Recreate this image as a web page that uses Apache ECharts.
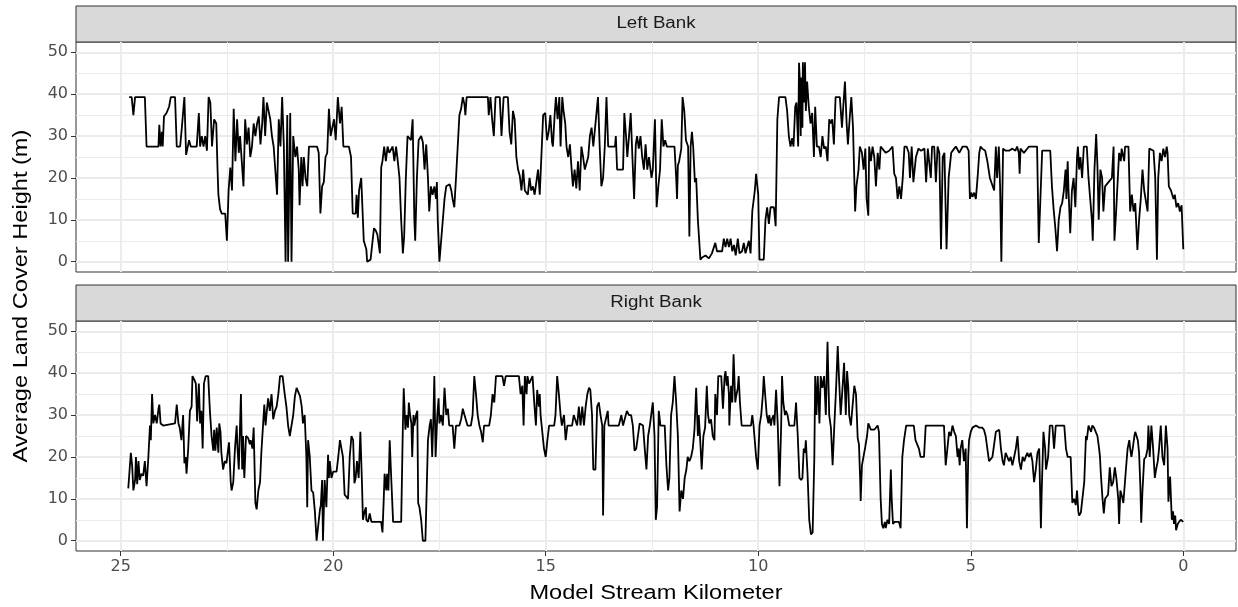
<!DOCTYPE html>
<html>
<head>
<meta charset="utf-8">
<script src="https://cdn.jsdelivr.net/npm/echarts@6/dist/echarts.min.js"></script>
<style>
  html, body { margin: 0; padding: 0; background: #fff; }
  #main { width: 1238px; height: 607px; }
</style>
</head>
<body>
<div id="main"></div>
<script>
// facet titles and axis ticks
var panelNames = ['Left Bank', 'Right Bank'];
var xTicks = [0, 5, 10, 15, 20, 25];
var xMinorTicks = [2.5, 7.5, 12.5, 17.5, 22.5];
var yTicks = [0, 10, 20, 30, 40, 50];
var yMinorTicks = [5, 15, 25, 35, 45];

// [model stream km, average land cover height (m)]
var leftBank = [
  [24.80,39.3],[24.74,39.3],[24.70,35],[24.66,39.3],[24.43,39.3],[24.39,27.5],[24.11,27.5],[24.09,32.7],[24.06,27.5],[24.03,31],
  [24.01,27.5],[23.98,34.7],[23.92,35.5],[23.86,37],[23.82,39.3],[23.72,39.3],[23.68,27.5],[23.60,27.5],[23.56,32],[23.50,39.3],
  [23.46,25.5],[23.43,25.5],[23.39,29],[23.35,27.5],[23.21,27.5],[23.16,35.5],[23.13,27.5],[23.09,30],[23.05,27.5],[23.01,30],
  [22.97,26.5],[22.93,39.3],[22.89,38],[22.85,27.5],[22.80,34],[22.75,33],[22.72,22],[22.70,16],[22.66,12.5],[22.62,11.5],
  [22.54,11.5],[22.50,5],[22.46,17],[22.42,22.5],[22.38,17],[22.34,36.5],[22.30,24],[22.26,34],[22.22,26],[22.19,30],
  [22.15,24],[22.11,18],[22.07,34],[22.03,28],[21.99,32],[21.95,25],[21.91,27.5],[21.87,33],[21.83,30],[21.79,33],
  [21.75,34.7],[21.71,28],[21.67,33],[21.64,39.3],[21.60,30],[21.56,38],[21.52,36],[21.48,34],[21.44,30],[21.40,27.5],
  [21.36,27.5],[21.32,16],[21.28,34],[21.24,27.5],[21.20,39.3],[21.16,27.5],[21.12,0],[21.08,35],[21.06,0],[21.03,0],
  [21.01,35.5],[20.98,0],[20.94,30],[20.89,25],[20.85,27.5],[20.81,22],[20.79,13.5],[20.75,25],[20.72,18],[20.69,25],
  [20.65,20],[20.61,18],[20.57,27.5],[20.38,27.5],[20.34,26],[20.30,11.5],[20.26,18],[20.22,19],[20.18,25],[20.14,26],
  [20.10,36.5],[20.06,30],[19.98,34],[19.94,29],[19.89,39.3],[19.84,33],[19.80,37],[19.76,27.5],[19.63,27.5],[19.58,25],
  [19.54,11.5],[19.47,11.5],[19.45,16],[19.42,10.5],[19.39,17],[19.34,20],[19.28,5],[19.22,3],[19.20,0],[19.12,0.5],
  [19.04,8],[19.00,7.5],[18.96,6.5],[18.90,2],
  [18.87,22.5],[18.84,24],[18.80,27.5],[18.76,24],[18.72,27.5],[18.68,26],[18.60,27.5],[18.56,24],[18.52,27.5],[18.48,24],
  [18.44,20],[18.40,10],[18.36,2],[18.33,6],[18.29,20],[18.25,30],[18.17,29],[18.13,34],[18.09,10],[18.07,5],
  [18.03,20],[17.99,29],[17.93,30],[17.89,28.5],[17.85,22],[17.81,28],[17.77,20],[17.74,12],[17.70,18],[17.66,16],
  [17.62,18],[17.58,15],[17.56,19],[17.54,10],[17.50,0],[17.46,5],[17.42,10],[17.38,15],[17.34,18],[17.26,18.5],
  [17.22,17],[17.19,15],[17.15,13],[17.11,20],[17.07,27.5],[17.03,35],[16.99,36.5],[16.95,39.3],[16.91,37.5],[16.89,35],
  [16.86,39.3],[16.36,39.3],[16.34,35],[16.30,39.3],[16.26,34],[16.22,30],[16.18,39.3],[16.08,39.3],[16.04,30],[15.99,39.3],
  [15.89,39.3],[15.85,31],[15.81,28],[15.77,36],[15.73,34],[15.69,25],[15.65,22],[15.61,20.5],[15.57,17],[15.53,22],
  [15.49,17],[15.42,16],[15.38,20],[15.34,17],[15.30,18],[15.26,16],[15.18,22],[15.14,16],[15.10,16],[15.06,35],
  [15.01,35.5],[14.97,29],[14.93,31],[14.89,35],[14.85,28.5],[14.83,27.5],[14.79,35],[14.76,39.3],[14.72,34],[14.68,39.3],
  [14.65,27.5],[14.61,39.3],[14.58,36],[14.54,33],[14.51,27.5],[14.47,25],[14.43,28],[14.39,22],[14.36,18],[14.32,22],
  [14.28,17.5],[14.24,24],[14.20,17],[14.16,27.5],[14.12,25],[14.08,22],[14.04,22],[14.00,25],[13.96,30],[13.92,32],
  [13.88,27.5],[13.84,27.5],[13.81,35],[13.77,39.3],[13.73,27.5],[13.69,18],[13.65,20],[13.61,27.5],[13.57,39.3],[13.53,27.5],
  [13.37,27.5],[13.35,30],[13.32,22],[13.18,22],[13.15,35.5],[13.11,30],[13.08,25],[13.04,30],[13.00,35.5],[12.96,25],
  [12.92,15],[12.88,28],[12.85,30],[12.81,27],[12.77,30],[12.73,25],[12.69,22],[12.65,28],[12.61,22],[12.57,25],
  [12.51,20],[12.48,22],[12.43,34],[12.39,13],[12.35,18],[12.31,22],[12.27,34],[12.23,27.5],[12.19,29],[12.15,27.5],
  [12.11,27.5],[11.97,27.5],[11.93,20],[11.91,15],[11.89,23],[11.86,24],[11.81,27],[11.78,39.3],[11.74,36],[11.70,29],
  [11.65,27.5],[11.62,6],[11.59,27.5],[11.56,31],[11.53,27.5],[11.49,19],[11.46,20],[11.42,10],[11.36,0.5],[11.32,1],
  [11.24,1.5],[11.16,0.8],[11.09,2],[11.01,4.5],[10.97,2.5],[10.85,2.5],[10.81,5.5],[10.77,3.5],[10.73,5.5],[10.69,3.5],
  [10.65,5.5],[10.61,2.5],[10.57,4],[10.53,1.5],[10.48,5.5],[10.44,2],[10.38,2.5],[10.34,4.5],[10.30,2],[10.26,2],
  [10.22,5],[10.18,2],[10.14,12],[10.08,17],[10.05,21],[10.00,16],[9.97,0.5],[9.87,0.5],[9.83,10],[9.79,13],
  [9.75,9],[9.71,13],[9.63,13],[9.59,8.5],[9.55,34],[9.51,39.3],[9.36,39.3],[9.32,36],[9.28,30],[9.24,27.5],
  [9.20,29.5],[9.17,27.5],[9.13,37],[9.10,38],[9.06,27.5],[9.04,47.5],[9.02,43],[9.00,30],[8.99,44],[8.96,32],
  [8.95,47.6],[8.92,38],[8.90,47.6],[8.88,36],[8.85,43],[8.83,40],[8.81,37],[8.77,33],[8.73,35.5],[8.69,25],
  [8.66,37],[8.62,27.5],[8.57,27.5],[8.53,25],[8.49,30],[8.45,27],[8.41,27.5],[8.37,24],[8.33,34],[8.29,33],
  [8.26,34],[8.22,28],[8.18,39.3],[8.08,39.3],[8.03,32],[8.00,37],[7.96,43],[7.92,33],[7.89,28],[7.85,34],
  [7.81,39.3],[7.77,32],[7.72,12],[7.69,18],[7.64,22],[7.61,27.5],[7.56,26],[7.52,22],[7.48,27],[7.45,15],
  [7.41,11],[7.39,27.5],[7.35,24],[7.31,27.5],[7.27,25],[7.23,18],[7.19,26],[7.15,22],[7.12,27.5],[7.00,26],
  [6.92,26.5],[6.84,27.5],[6.80,21],[6.76,20],[6.72,15],[6.68,18],[6.64,15],[6.60,20],[6.56,27.5],[6.51,27.5],
  [6.46,26],[6.43,20],[6.39,27.5],[6.35,19],[6.29,25],[6.23,27],[6.17,26.5],[6.09,27],[6.05,19],[6.01,27],
  [5.94,20],[5.91,27.5],[5.86,27.5],[5.82,19],[5.78,27.5],[5.74,26],[5.70,3],[5.66,25],[5.62,26],[5.57,3],
  [5.52,20],[5.46,26],[5.39,27],[5.35,27.5],[5.27,26],[5.19,27.5],
  [5.10,27.5],[5.05,26.5],[5.02,15],[4.99,16.5],[4.96,15.5],[4.92,16.5],[4.88,15],[4.84,20],[4.80,26],[4.77,27.5],
  [4.73,27],[4.66,26.5],[4.61,24],[4.55,20],[4.45,17],[4.41,27.5],[4.38,20],[4.34,27.5],[4.31,18],[4.28,0],
  [4.24,27],[4.18,26.5],[4.10,26.5],[4.02,27],[3.95,26.5],[3.91,27.5],[3.87,26],[3.85,21],[3.83,27],[3.75,26],
  [3.63,27.5],[3.44,27.5],[3.40,4.5],[3.36,4.5],[3.32,26.5],[3.13,26.5],[3.09,18],[3.05,12.5],[3.01,8],[2.97,2.5],
  [2.93,10],[2.89,13],[2.85,14],[2.81,17],[2.77,22],[2.75,15],[2.72,24],[2.70,17],[2.66,6.8],[2.62,17],
  [2.58,20],[2.54,13],[2.50,25],[2.48,27.5],[2.45,22],[2.42,25],[2.38,20],[2.34,27.5],[2.27,27.5],[2.23,20],
  [2.19,20],[2.15,10],[2.13,5],[2.09,22],[2.05,30.5],[2.02,23],[1.99,10],[1.95,22],[1.91,20],[1.88,12],
  [1.84,18],[1.76,19],[1.68,20],[1.64,27.5],[1.62,5],[1.58,12],[1.54,20],[1.51,26],[1.47,24],[1.45,27],
  [1.39,24],[1.37,27.5],[1.29,27.5],[1.25,12],[1.21,16],[1.17,12],[1.13,14],[1.08,2.8],[1.04,10],[1.00,15],
  [0.96,22],[0.92,17],[0.88,17],[0.84,12],[0.80,27],[0.70,26.5],[0.66,20],[0.62,0.5],[0.59,20],[0.55,26],
  [0.51,24],[0.47,27],[0.43,25],[0.39,27.5],[0.37,26],[0.34,18],[0.29,17],[0.23,15],[0.20,16],[0.16,13],
  [0.12,14],[0.08,12],[0.04,13.5],[0.00,3]
];

var rightBank = [
  [24.82,12.5],[24.76,21],[24.73,18],[24.70,12],[24.66,14.5],[24.64,20],[24.61,13.5],[24.58,19],[24.55,14.5],[24.51,16],
  [24.47,15.5],[24.43,19],[24.39,13],[24.35,19.5],[24.31,27.5],[24.29,24],[24.26,35],[24.23,28],[24.19,30],[24.15,28],
  [24.11,31.5],[24.09,32.5],[24.06,28],[24.00,27.5],[23.72,28],[23.68,32.5],[23.64,28],[23.61,27],[23.57,24],[23.53,30],
  [23.50,18.5],[23.47,20],[23.45,16],[23.41,22],[23.37,31],[23.33,32],[23.31,39.3],[23.27,38.5],[23.23,37.5],[23.20,28.5],
  [23.16,37.5],[23.13,28],[23.10,31],[23.07,22],[23.04,37.5],[23.00,39.3],[22.94,39.3],[22.90,31],[22.86,25],[22.82,21.5],
  [22.80,26.5],[22.77,21.5],[22.74,27],[22.70,21],[22.68,28],[22.65,26],[22.63,21],[22.59,17],[22.55,19],[22.51,18.5],
  [22.47,22],[22.45,23.5],[22.41,14],[22.39,12],[22.35,14],[22.31,22],[22.27,27.5],[22.25,22],[22.22,17],[22.19,17],
  [22.17,35],[22.14,17],[22.12,25],[22.09,15],[22.05,25],[22.00,24.5],[21.96,23],[21.94,24],[21.90,22],[21.87,27],
  [21.83,9],[21.80,7.5],[21.76,12],[21.72,14],[21.69,21],[21.65,27.5],[21.62,32.5],[21.59,27.5],[21.57,30],[21.53,34],
  [21.49,31],[21.45,35],[21.41,29],[21.37,31],[21.33,32],[21.29,35],[21.25,39.3],[21.19,39.3],[21.14,35],[21.10,32],
  [21.06,27.5],[21.02,25],[20.98,25],[20.94,30],[20.90,34.5],[20.86,36.5],[20.82,36.5],[20.78,34.5],[20.74,32],[20.71,28],
  [20.67,30],[20.63,20],[20.61,8],[20.59,24],[20.55,20],[20.51,12],[20.47,11.5],[20.43,7],[20.39,0],[20.35,0],
  [20.31,7.5],[20.29,8.5],[20.26,14.5],[20.24,0],[20.20,14.5],[20.16,8],[20.12,20.5],
  [20.10,15],[20.08,19],[20.04,15],[20.00,16.5],[19.92,16.5],[19.88,20],[19.84,24],[19.80,24],[19.77,20],[19.73,11],
  [19.69,10.5],[19.65,10],[19.61,20],[19.57,25],[19.53,24],[19.50,13.7],[19.47,15],[19.44,19],[19.40,15],[19.36,26],
  [19.32,13],[19.30,5],[19.26,7],[19.23,8],[19.22,5],[19.18,4.5],[19.14,6.5],[19.10,4.5],[18.87,4.5],[18.84,2],
  [18.81,10],[18.79,16],[18.75,12],[18.73,16],[18.70,12],[18.67,24],[18.63,14],[18.59,4.5],[18.40,4.5],[18.36,27.5],
  [18.34,36.4],[18.30,26.5],[18.27,30],[18.24,27],[18.22,33],[18.19,30],[18.16,28],[18.14,20],[18.11,30],[18.09,27.5],
  [18.05,30],[18.02,31],[18.00,9],[17.97,8],[17.93,5],[17.89,0],[17.83,0],[17.80,12],[17.77,24],[17.73,27.5],
  [17.70,29],[17.67,20],[17.64,30],[17.62,39.3],[17.59,20],[17.55,30],[17.52,34],[17.50,28],[17.46,30],[17.42,27.5],
  [17.38,36.5],[17.34,30],[17.30,31.5],[17.27,27.5],[17.19,27.5],[17.15,22],[17.11,27.5],[17.03,27.5],[16.99,29],[16.95,31.5],
  [16.91,30],[16.87,30],[16.84,27.5],[16.76,27.5],[16.72,30],[16.68,39.3],[16.64,35],[16.60,30],[16.56,27.5],[16.52,26],
  [16.48,23.5],[16.45,27.5],[16.33,27.5],[16.29,30],[16.25,35],[16.21,33],[16.17,39.3],[16.02,39.3],[15.98,37],[15.94,39.3],
  [15.63,39.3],[15.59,35],[15.55,37],[15.52,27.5],[15.49,39.3],[15.45,35],[15.43,39.3],[15.39,37.5],[15.31,39.3],[15.27,33],
  [15.23,27.5],[15.20,36],[15.16,32],[15.14,35],[15.12,30],[15.08,30],[15.04,22],[15.00,20],[14.96,24],[14.92,27.5],
  [14.80,27.5],[14.77,30],[14.73,39.3],[14.69,35],[14.65,30],[14.62,27.5],[14.57,30],[14.53,24],[14.49,27.5],[14.38,27.5],
  [14.34,30],[14.30,30],[14.26,27.5],[14.22,32],[14.18,27.5],[14.14,32],[14.10,27.5],[14.06,32],[14.02,35],[13.98,36.5],
  [13.95,36],[13.91,30],[13.88,17],[13.83,17],[13.79,32],[13.75,33],[13.71,30],[13.67,27.5],[13.65,6],[13.62,27.5],
  [13.58,27.5],[13.54,31],[13.52,27.5],[13.28,27.5],
  [13.22,30],[13.18,27.5],[13.14,27.5],[13.09,31],[13.04,30],[12.99,30],[12.95,27.5],[12.91,21.5],[12.87,22],[12.83,25],
  [12.79,28],[12.71,27.5],[12.67,22],[12.63,17],[12.59,25],[12.55,27.5],[12.52,27.5],[12.48,33],[12.44,25],[12.41,5],
  [12.38,8],[12.34,31],[12.30,27.5],[12.20,27.5],[12.16,18],[12.12,12],[12.09,15],[12.05,30],[12.01,33],[11.97,39.3],
  [11.93,33],[11.89,25],[11.85,7],[11.81,12],[11.77,10],[11.73,15],[11.69,17],[11.66,20],[11.62,19],[11.58,20],
  [11.54,22],[11.50,26.5],[11.46,36.5],[11.42,25],[11.40,30],[11.37,25],[11.33,17],[11.29,25],[11.25,27],[11.21,37],
  [11.18,30],[11.15,28],[11.11,29],[11.07,25],[11.03,24],[11.01,35],[10.97,30],[10.94,39.3],[10.87,39.3],[10.83,31.5],
  [10.79,39.3],[10.77,40.5],[10.74,37],[10.72,39.3],[10.69,35],[10.68,27.5],[10.64,37],[10.61,33],[10.58,44.5],[10.54,33],
  [10.52,34.5],[10.48,36.5],[10.46,39.3],[10.43,33],[10.39,27.5],[10.17,27.5],[10.14,30],[10.11,27.5],[10.05,20],[10.01,17],
  [9.97,27.5],[9.93,30],[9.89,35],[9.87,39.3],[9.83,34],[9.80,30],[9.76,28],[9.74,30],[9.70,27.5],[9.68,29],
  [9.64,30],[9.62,27.5],[9.58,36],[9.54,27.5],[9.50,13],[9.46,27.5],[9.44,39.3],[9.41,33],[9.37,30],[9.35,31],
  [9.31,30],[9.27,27.5],[9.15,27.5],[9.11,33],[9.07,25],[9.03,15],[8.99,14.5],[8.96,15],[8.93,22],[8.90,21],
  [8.88,24],[8.84,16],[8.80,5],[8.76,1.5],[8.72,2],[8.68,20],[8.66,39.3],[8.63,30],[8.60,39.3],[8.56,28],
  [8.53,39.3],[8.49,36.5],[8.45,39.3],[8.41,30],[8.37,47.5],[8.33,30],[8.29,27],[8.25,18],[8.21,27.5],[8.17,36],
  [8.13,46.5],[8.10,39],[8.06,30],[8.02,36],[7.98,42.5],[7.94,30],[7.91,40.5],[7.88,36.5],[7.86,30],[7.82,27.5],
  [7.74,37],[7.70,35],[7.66,24.5],[7.63,23],[7.60,14],[7.59,9.5],[7.56,18],[7.52,18],[7.48,22.5],[7.44,25],
  [7.41,28],[7.35,26.5],[7.27,26.5],[7.19,27.5],[7.16,26],[7.12,10],[7.09,4],[7.06,3],[7.02,4.5],[7.00,3],
  [6.96,5],[6.92,4],[6.88,17],[6.86,10],[6.83,4],[6.79,4.5],[6.69,4.5],[6.65,3],[6.61,20],
  [6.57,24],[6.52,27.5],[6.34,27.5],[6.30,24],[6.26,24],[6.22,22],[6.18,20],[6.10,20],[6.06,27.5],[5.63,27.5],
  [5.59,18],[5.55,22],[5.51,26],[5.47,25],[5.43,27.5],[5.39,26],[5.35,25],[5.31,20],[5.29,22],[5.26,18],
  [5.24,22],[5.20,24],[5.16,19],[5.12,22],[5.09,3],[5.06,20],[5.04,24],[5.00,26],[4.96,27],[4.88,27.5],
  [4.80,27],[4.73,27],[4.69,26.5],[4.65,25],[4.61,22],[4.57,19],[4.49,20],[4.45,20],[4.41,26],[4.33,26.5],
  [4.29,22],[4.25,19],[4.22,18],[4.18,21],[4.14,21],[4.10,19],[4.06,20],[4.02,18],[3.98,20],[3.94,22],
  [3.90,25],[3.86,19],[3.82,17],[3.78,20],[3.74,19],[3.71,20],[3.67,21],[3.63,20],[3.59,21],[3.55,19],
  [3.51,14],[3.47,17],[3.43,21],[3.39,22],[3.35,3],[3.33,12],[3.29,26],[3.25,22],[3.23,17],[3.18,20],
  [3.14,27.5],[3.08,27.5],[3.04,22],[3.00,27.5],[2.80,27.5],[2.76,22],[2.72,20],[2.65,20],[2.61,9],[2.57,10],
  [2.53,8.5],[2.50,12],[2.47,7],[2.45,6],[2.41,6.7],[2.37,6.5],[2.33,14],[2.29,25],[2.27,24],[2.23,27.5],
  [2.17,26],[2.14,27.5],[2.10,27],[2.06,26],[2.02,25],[1.98,22],[1.96,20],[1.94,16],[1.90,10],[1.87,6.5],
  [1.84,10],[1.77,11],[1.73,17.5],[1.69,13],[1.65,14],[1.61,17.5],[1.57,14.5],[1.53,10],[1.51,4],[1.48,12],
  [1.44,10.5],[1.41,9],[1.38,13],[1.35,17],[1.31,22],[1.27,24],[1.25,22],[1.22,20],[1.19,22],[1.15,25],
  [1.13,26],[1.10,25],[1.07,24],[1.04,21],[1.01,13],[0.99,4.3],[0.96,12],[0.92,19.5],[0.88,20],[0.84,22],
  [0.82,27.5],[0.79,20],[0.75,27.5],[0.71,22],[0.67,15],[0.64,17],[0.60,19],[0.57,22],[0.53,27.5],[0.49,20],
  [0.45,18],[0.41,27.5],[0.37,22],[0.35,9.3],[0.31,15.3],[0.27,5],[0.24,7],[0.22,4],[0.19,6],[0.17,2.5],
  [0.13,4],[0.10,4.5],[0.06,5],[0.00,4.5]
];

var FONT = '"Liberation Sans", Arial, sans-serif';
var TICK_FONT = '"DejaVu Sans", sans-serif';
var PLOT_LEFT = 76, PLOT_W = 1160, PANEL_H = 230, STRIP_H = 36;
var panelTops = [42, 321];
var X_MIN = -1.24, X_MAX = 26.05;
var Y_MIN = -2.45, Y_MAX = 52.45;

var grids = [], xAxes = [], yAxes = [], seriesList = [], graphics = [];
var bankData = [leftBank, rightBank];

panelTops.forEach(function (top, i) {
    var last = i === panelTops.length - 1;
    grids.push({
        left: PLOT_LEFT, top: top, width: PLOT_W, height: PANEL_H,
        show: true, backgroundColor: '#fff', borderColor: '#333', borderWidth: 1
    });

    // major x gridlines (+ labels on the bottom panel)
    xAxes.push({
        type: 'value', gridIndex: i, position: 'bottom', min: X_MIN, max: X_MAX, inverse: true,
        axisLine: { show: false, onZero: false },
        axisTick: { show: last, length: 5, customValues: xTicks, lineStyle: { color: '#333', width: 1 } },
        axisLabel: { show: last, customValues: xTicks, color: '#4d4d4d', fontSize: 16, fontFamily: TICK_FONT, margin: 8 },
        splitLine: { show: true, lineStyle: { color: '#ebebeb', width: 2 } }
    });
    // minor x gridlines
    xAxes.push({
        type: 'value', gridIndex: i, position: 'top', min: X_MIN, max: X_MAX, inverse: true,
        axisLine: { show: false, onZero: false },
        axisTick: { show: false, customValues: xMinorTicks },
        axisLabel: { show: false, customValues: xMinorTicks },
        splitLine: { show: true, lineStyle: { color: '#ebebeb', width: 1 } }
    });

    yAxes.push({
        type: 'value', gridIndex: i, position: 'left', min: Y_MIN, max: Y_MAX,
        axisLine: { show: false, onZero: false },
        axisTick: { show: true, length: 5, customValues: yTicks, lineStyle: { color: '#333', width: 1 } },
        axisLabel: { customValues: yTicks, color: '#4d4d4d', fontSize: 16, fontFamily: TICK_FONT, margin: 8 },
        splitLine: { show: true, lineStyle: { color: '#ebebeb', width: 2 } }
    });
    yAxes.push({
        type: 'value', gridIndex: i, position: 'right', min: Y_MIN, max: Y_MAX,
        axisLine: { show: false, onZero: false },
        axisTick: { show: false, customValues: yMinorTicks },
        axisLabel: { show: false, customValues: yMinorTicks },
        splitLine: { show: true, lineStyle: { color: '#ebebeb', width: 1 } }
    });

    seriesList.push({
        type: 'line', name: panelNames[i], xAxisIndex: i * 2, yAxisIndex: i * 2,
        data: bankData[i], symbol: 'none', showSymbol: false, silent: true,
        lineStyle: { color: '#000', width: 1.8 }, z: 5
    });

    // facet strip
    graphics.push({
        type: 'rect', shape: { x: PLOT_LEFT, y: top - STRIP_H, width: PLOT_W, height: STRIP_H },
        style: { fill: '#d9d9d9', stroke: '#333', lineWidth: 1 }
    });
    graphics.push({
        type: 'text', x: PLOT_LEFT + PLOT_W / 2, y: top - STRIP_H / 2, scaleX: 1.17,
        style: { text: panelNames[i], fill: '#1a1a1a', font: '16px ' + FONT, align: 'center', verticalAlign: 'middle' }
    });
});

// axis titles
graphics.push({
    type: 'text', x: PLOT_LEFT + PLOT_W / 2, y: 593, scaleX: 1.18,
    style: { text: 'Model Stream Kilometer', fill: '#000', font: '20px ' + FONT, align: 'center', verticalAlign: 'middle' }
});
graphics.push({
    type: 'text', x: 21, y: 296, rotation: Math.PI / 2, scaleX: 1.18,
    style: { text: 'Average Land Cover Height (m)', fill: '#000', font: '20px ' + FONT, align: 'center', verticalAlign: 'middle' }
});

var option = {
    animation: false,
    backgroundColor: '#fff',
    grid: grids,
    xAxis: xAxes,
    yAxis: yAxes,
    series: seriesList,
    graphic: { elements: graphics }
};

echarts.init(document.getElementById('main')).setOption(option);
</script>
</body>
</html>
